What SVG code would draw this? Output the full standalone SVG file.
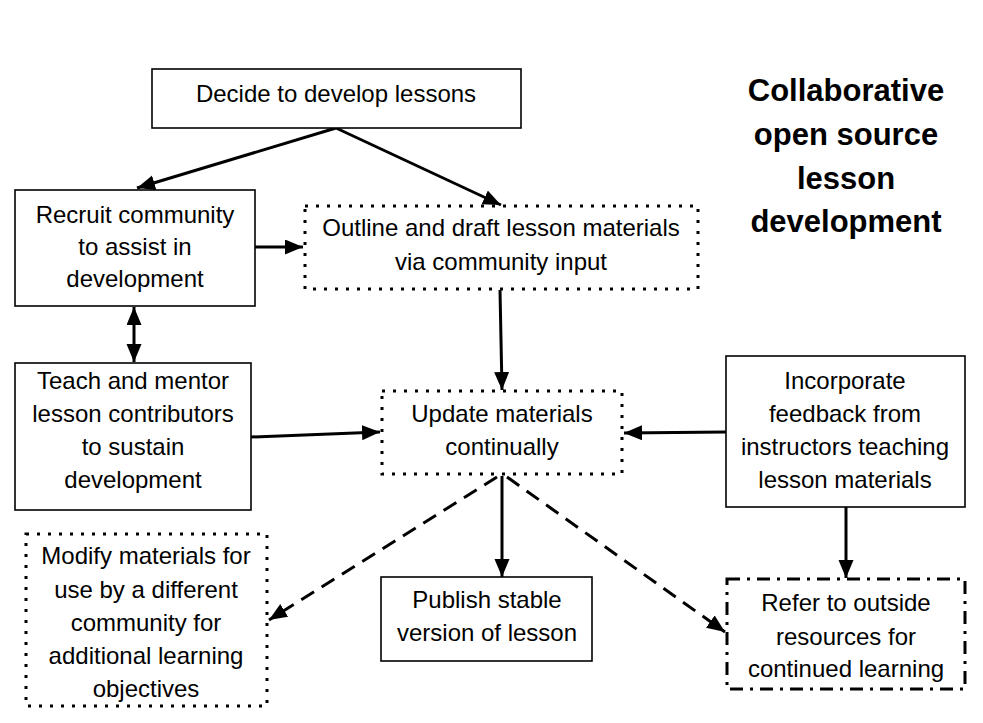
<svg xmlns="http://www.w3.org/2000/svg" width="983" height="723" viewBox="0 0 983 723">
<style>
.box{fill:#fff;stroke:#000;stroke-width:1.6}
.dot{fill:#fff;stroke:#000;stroke-width:3;stroke-dasharray:3 8}
.dd{fill:#fff;stroke:#000;stroke-width:3;stroke-dasharray:13 7 3 7}
.t{font-family:"Liberation Sans",Arial,sans-serif;font-size:24px;fill:#000;text-anchor:middle}
.title{font-family:"Liberation Sans",Arial,sans-serif;font-size:31px;font-weight:bold;fill:#000;text-anchor:middle}
.c{fill:none;stroke:#000;stroke-width:3}
.dash{stroke-dasharray:15 9}
</style>
<defs>
<marker id="ah" markerUnits="userSpaceOnUse" markerWidth="20" markerHeight="16" refX="18" refY="7.5" orient="auto">
<path d="M0,0 L18,7.5 L0,15 z" fill="#000"/>
</marker>
<marker id="as" markerUnits="userSpaceOnUse" markerWidth="20" markerHeight="16" refX="18" refY="7.5" orient="auto-start-reverse">
<path d="M0,0 L18,7.5 L0,15 z" fill="#000"/>
</marker>
</defs>
<rect width="983" height="723" fill="#fff"/>
<g id="title">
<text class="title" x="846" y="101">Collaborative</text>
<text class="title" x="846" y="145">open source</text>
<text class="title" x="846" y="189">lesson</text>
<text class="title" x="846" y="232">development</text>
</g>
<g id="connectors">
<line class="c" x1="336" y1="128" x2="137" y2="188" marker-end="url(#ah)"/>
<line class="c" x1="336" y1="128" x2="501" y2="205" marker-end="url(#ah)"/>
<line class="c" x1="255" y1="247" x2="303" y2="247" marker-end="url(#ah)"/>
<line class="c" x1="134" y1="307" x2="134" y2="362" marker-start="url(#as)" marker-end="url(#as)"/>
<line class="c" x1="500" y1="290" x2="502" y2="390" marker-end="url(#ah)"/>
<line class="c" x1="251" y1="437" x2="380" y2="432" marker-end="url(#ah)"/>
<line class="c" x1="726" y1="432" x2="624" y2="433" marker-end="url(#ah)"/>
<line class="c" x1="502" y1="476" x2="502" y2="577" marker-end="url(#ah)"/>
<line class="c dash" x1="497" y1="477" x2="269" y2="620" marker-end="url(#ah)"/>
<line class="c dash" x1="507" y1="477" x2="725" y2="632" marker-end="url(#ah)"/>
<line class="c" x1="846" y1="507" x2="846" y2="578" marker-end="url(#ah)"/>
</g>
<g id="decide">
<rect class="box" x="152" y="69" width="369" height="59"/>
<text class="t" x="336" y="102">Decide to develop lessons</text>
</g>
<g id="recruit">
<rect class="box" x="15" y="190" width="240" height="116"/>
<text class="t" x="135" y="223">Recruit community</text>
<text class="t" x="135" y="255">to assist in</text>
<text class="t" x="135" y="287">development</text>
</g>
<g id="outline">
<rect class="dot" x="305" y="206" width="393" height="83"/>
<text class="t" x="501" y="236">Outline and draft lesson materials</text>
<text class="t" x="501" y="270">via community input</text>
</g>
<g id="teach">
<rect class="box" x="15" y="363" width="236" height="147"/>
<text class="t" x="133" y="389">Teach and mentor</text>
<text class="t" x="133" y="422">lesson contributors</text>
<text class="t" x="133" y="455">to sustain</text>
<text class="t" x="133" y="488">development</text>
</g>
<g id="update">
<rect class="dot" x="382" y="391" width="240" height="83"/>
<text class="t" x="502" y="422">Update materials</text>
<text class="t" x="502" y="455">continually</text>
</g>
<g id="incorporate">
<rect class="box" x="726" y="356" width="239" height="151"/>
<text class="t" x="845" y="389">Incorporate</text>
<text class="t" x="845" y="422">feedback from</text>
<text class="t" x="845" y="455">instructors teaching</text>
<text class="t" x="845" y="488">lesson materials</text>
</g>
<g id="modify">
<rect class="dot" x="26" y="534" width="241" height="172"/>
<text class="t" x="146" y="564">Modify materials for</text>
<text class="t" x="146" y="598">use by a different</text>
<text class="t" x="146" y="631">community for</text>
<text class="t" x="146" y="664">additional learning</text>
<text class="t" x="146" y="697">objectives</text>
</g>
<g id="publish">
<rect class="box" x="381" y="577" width="211" height="84"/>
<text class="t" x="487" y="608">Publish stable</text>
<text class="t" x="487" y="641">version of lesson</text>
</g>
<g id="refer">
<rect class="dd" x="727" y="579" width="238" height="110"/>
<text class="t" x="846" y="611">Refer to outside</text>
<text class="t" x="846" y="645">resources for</text>
<text class="t" x="846" y="677">continued learning</text>
</g>
</svg>
